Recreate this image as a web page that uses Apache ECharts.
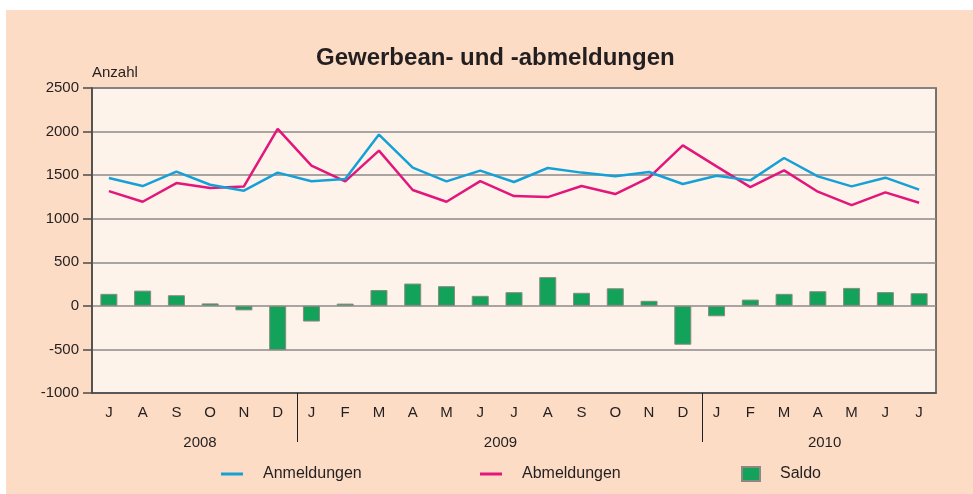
<!DOCTYPE html>
<html>
<head>
<meta charset="utf-8">
<script src="https://cdn.jsdelivr.net/npm/echarts@6/dist/echarts.min.js"></script>
<style>
    html, body { margin: 0; padding: 0; background: #ffffff; }
    #chart { position: absolute; left: 6px; top: 10px; width: 967px; height: 484px; }
</style>
</head>
<body>
<div id="chart"></div>
<script>
// Monate Juli 2008 bis Juli 2010
const months = ['J', 'A', 'S', 'O', 'N', 'D',
    'J', 'F', 'M', 'A', 'M', 'J', 'J', 'A', 'S', 'O', 'N', 'D',
    'J', 'F', 'M', 'A', 'M', 'J', 'J']
const years = ['2008', '2009', '2010']
const yearCenters = [3.2, 12.1, 21.7] // label position on the 0..25 month scale
const yearBreaks = [6.07, 18.08]

const anmeldungen = [1467, 1375, 1540, 1390, 1322, 1529,
    1429, 1455, 1966, 1586, 1429, 1552, 1421, 1582, 1529, 1486, 1536, 1398,
    1494, 1440, 1697, 1486, 1371, 1471, 1333]
const abmeldungen = [1317, 1195, 1409, 1352, 1371, 2030,
    1609, 1429, 1782, 1329, 1195, 1432, 1260, 1248, 1375, 1283, 1471, 1842,
    1601, 1363, 1555, 1310, 1156, 1302, 1184]
const saldo = [138, 175, 122, 28, -52, -508,
    -180, 26, 182, 256, 226, 115, 157, 330, 150, 202, 58, -446,
    -120, 72, 138, 168, 206, 158, 145]

const font = 'Liberation Sans, Arial, sans-serif'
const textColor = '#231f20'

const chart = echarts.init(document.getElementById('chart'))

const legendBase = {
    top: 451,
    itemWidth: 22,
    itemHeight: 3,
    icon: 'rect',
    textStyle: { fontFamily: font, fontSize: 16, color: textColor, padding: [0, 0, 0, 15] },
}

chart.setOption({
    backgroundColor: '#fcdcc5',
    animation: false,
    title: {
        text: 'Gewerbean- und -abmeldungen',
        left: 305,
        top: 31,
        textStyle: { fontFamily: font, fontSize: 24, fontWeight: 'bold', color: textColor },
    },
    legend: [
        { ...legendBase, left: 210, data: ['Anmeldungen'] },
        { ...legendBase, left: 469, data: ['Abmeldungen'] },
        { ...legendBase, left: 730, itemWidth: 18, itemHeight: 14, data: ['Saldo'] },
    ],
    grid: {
        left: 86, top: 78, width: 844, height: 305,
        show: true,
        backgroundColor: '#fdf3ea',
        borderColor: '#4a4a4a',
        borderWidth: 1.5,
    },
    xAxis: [
        {
            type: 'category',
            data: months,
            boundaryGap: true,
            axisLine: { show: true, onZero: false, lineStyle: { color: '#4a4a4a', width: 1.5 } },
            axisTick: { show: false },
            axisLabel: { interval: 0, margin: 12, fontFamily: font, fontSize: 15, color: textColor },
            splitLine: { show: false },
        },
        {
            type: 'value',
            position: 'bottom',
            min: 0,
            max: 25,
            axisLine: { show: false, onZero: false },
            axisTick: {
                show: true,
                customValues: yearBreaks,
                length: 49,
                lineStyle: { color: '#231f20', width: 1 },
            },
            axisLabel: {
                customValues: yearCenters,
                margin: 42,
                fontFamily: font,
                fontSize: 15,
                color: textColor,
                formatter: (v) => years[yearCenters.indexOf(v)],
            },
            splitLine: { show: false },
        },
    ],
    yAxis: {
        type: 'value',
        min: -1000,
        max: 2500,
        interval: 500,
        name: 'Anzahl',
        nameLocation: 'end',
        nameGap: 8,
        nameTextStyle: { fontFamily: font, fontSize: 15, color: textColor, align: 'left' },
        axisLine: { show: true, lineStyle: { color: '#4a4a4a', width: 1.5 } },
        axisTick: { show: true, length: 9, lineStyle: { color: '#4a4a4a', width: 1.5 } },
        axisLabel: { margin: 13, fontFamily: font, fontSize: 15, color: textColor, formatter: (v) => String(v) },
        splitLine: { show: true, lineStyle: { color: '#8c8a88', width: 1.5 } },
    },
    series: [
        {
            name: 'Saldo',
            type: 'bar',
            data: saldo,
            barWidth: 17,
            itemStyle: { color: '#13a25a', borderColor: '#8a8a80', borderWidth: 1 },
            z: 2,
        },
        {
            name: 'Anmeldungen',
            type: 'line',
            data: anmeldungen,
            color: '#16a0d8',
            symbol: 'none',
            lineStyle: { width: 2.5, color: '#16a0d8' },
            z: 4,
        },
        {
            name: 'Abmeldungen',
            type: 'line',
            data: abmeldungen,
            color: '#e3167b',
            symbol: 'none',
            lineStyle: { width: 2.5, color: '#e3167b' },
            z: 3,
        },
    ],
})
</script>
</body>
</html>
